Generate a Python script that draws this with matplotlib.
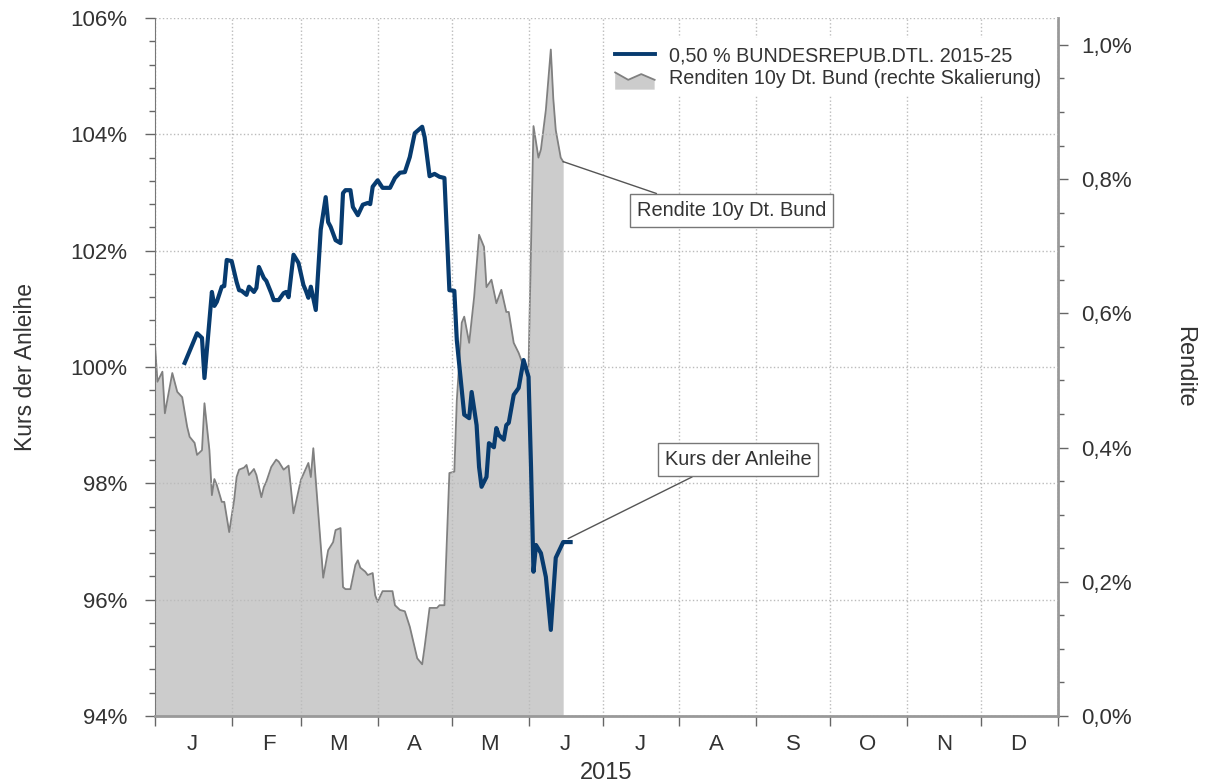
import numpy as np
import pandas as pd
import matplotlib
matplotlib.use("Agg")
import matplotlib.pyplot as plt
import matplotlib.dates as mdates
from matplotlib.ticker import FuncFormatter, MultipleLocator
from matplotlib.legend_handler import HandlerBase
from matplotlib.patches import Polygon, Patch
from matplotlib.lines import Line2D
from matplotlib import font_manager

# Rendite 10y Dt. Bund (rechte Achse, in %)
yield_dates = [
    "2015-01-01", "2015-01-02", "2015-01-04", "2015-01-05", "2015-01-08", "2015-01-10",
    "2015-01-12", "2015-01-14", "2015-01-15", "2015-01-17", "2015-01-18", "2015-01-20",
    "2015-01-21", "2015-01-23", "2015-01-24", "2015-01-25", "2015-01-26", "2015-01-28",
    "2015-01-29", "2015-01-31", "2015-02-02", "2015-02-03", "2015-02-04", "2015-02-06",
    "2015-02-07", "2015-02-08", "2015-02-10", "2015-02-11", "2015-02-13", "2015-02-14",
    "2015-02-15", "2015-02-17", "2015-02-19", "2015-02-20", "2015-02-22", "2015-02-24",
    "2015-02-26", "2015-03-01", "2015-03-04", "2015-03-05", "2015-03-06", "2015-03-10",
    "2015-03-12", "2015-03-14", "2015-03-15", "2015-03-17", "2015-03-18", "2015-03-19",
    "2015-03-21", "2015-03-23", "2015-03-24", "2015-03-25", "2015-03-27", "2015-03-28",
    "2015-03-30", "2015-03-31", "2015-04-01", "2015-04-03", "2015-04-07", "2015-04-08",
    "2015-04-10", "2015-04-12", "2015-04-14", "2015-04-17", "2015-04-19", "2015-04-20",
    "2015-04-22", "2015-04-25", "2015-04-26", "2015-04-28", "2015-04-30", "2015-05-02",
    "2015-05-03", "2015-05-05", "2015-05-06", "2015-05-08", "2015-05-10", "2015-05-12",
    "2015-05-14", "2015-05-15", "2015-05-17", "2015-05-19", "2015-05-21", "2015-05-23",
    "2015-05-24", "2015-05-26", "2015-05-28", "2015-05-29", "2015-05-30", "2015-06-01",
    "2015-06-03", "2015-06-05", "2015-06-06", "2015-06-08", "2015-06-10", "2015-06-11",
    "2015-06-12", "2015-06-14", "2015-06-15",
]
yield_values = [
    0.553, 0.498, 0.513, 0.451, 0.511, 0.483,
    0.475, 0.431, 0.416, 0.407, 0.389, 0.396,
    0.466, 0.396, 0.329, 0.353, 0.344, 0.319,
    0.319, 0.274, 0.322, 0.356, 0.367, 0.370,
    0.374, 0.359, 0.368, 0.359, 0.326, 0.341,
    0.349, 0.371, 0.382, 0.379, 0.367, 0.373,
    0.302, 0.352, 0.377, 0.356, 0.399, 0.206,
    0.247, 0.259, 0.277, 0.280, 0.192, 0.189,
    0.189, 0.225, 0.232, 0.221, 0.215, 0.210,
    0.213, 0.180, 0.170, 0.186, 0.186, 0.165,
    0.158, 0.156, 0.133, 0.086, 0.077, 0.103,
    0.161, 0.161, 0.165, 0.165, 0.362, 0.364,
    0.470, 0.586, 0.595, 0.556, 0.624, 0.717,
    0.699, 0.639, 0.650, 0.615, 0.635, 0.602,
    0.602, 0.556, 0.541, 0.531, 0.520, 0.520,
    0.879, 0.832, 0.844, 0.903, 0.993, 0.920,
    0.873, 0.832, 0.826,
]

# Kurs 0,50 % BUNDESREPUB.DTL. 2015-25 (linke Achse, in %)
price_dates = [
    "2015-01-13", "2015-01-18", "2015-01-20", "2015-01-21", "2015-01-24", "2015-01-25",
    "2015-01-26", "2015-01-28", "2015-01-29", "2015-01-30", "2015-02-01", "2015-02-03",
    "2015-02-04", "2015-02-05", "2015-02-07", "2015-02-08", "2015-02-10", "2015-02-11",
    "2015-02-12", "2015-02-14", "2015-02-15", "2015-02-17", "2015-02-18", "2015-02-20",
    "2015-02-22", "2015-02-23", "2015-02-24", "2015-02-26", "2015-02-28", "2015-03-02",
    "2015-03-03", "2015-03-04", "2015-03-05", "2015-03-07", "2015-03-09", "2015-03-11",
    "2015-03-12", "2015-03-13", "2015-03-15", "2015-03-17", "2015-03-18", "2015-03-19",
    "2015-03-21", "2015-03-22", "2015-03-24", "2015-03-25", "2015-03-26", "2015-03-28",
    "2015-03-29", "2015-03-30", "2015-04-01", "2015-04-03", "2015-04-06", "2015-04-08",
    "2015-04-10", "2015-04-12", "2015-04-14", "2015-04-16", "2015-04-19", "2015-04-20",
    "2015-04-22", "2015-04-24", "2015-04-26", "2015-04-28", "2015-04-30", "2015-05-02",
    "2015-05-03", "2015-05-06", "2015-05-08", "2015-05-09", "2015-05-11", "2015-05-12",
    "2015-05-13", "2015-05-15", "2015-05-16", "2015-05-18", "2015-05-19", "2015-05-20",
    "2015-05-22", "2015-05-23", "2015-05-24", "2015-05-26", "2015-05-28", "2015-05-30",
    "2015-06-01", "2015-06-02", "2015-06-03", "2015-06-04", "2015-06-06", "2015-06-08",
    "2015-06-10", "2015-06-12", "2015-06-15", "2015-06-18",
]
price_values = [
    100.07, 100.58, 100.50, 99.81, 101.29, 101.05,
    101.12, 101.38, 101.39, 101.84, 101.82, 101.46,
    101.32, 101.31, 101.24, 101.38, 101.29, 101.36,
    101.72, 101.53, 101.48, 101.27, 101.15, 101.15,
    101.27, 101.29, 101.20, 101.93, 101.79, 101.41,
    101.31, 101.19, 101.38, 100.98, 102.36, 102.92,
    102.49, 102.41, 102.18, 102.13, 102.99, 103.04,
    103.04, 102.75, 102.61, 102.70, 102.79, 102.82,
    102.80, 103.10, 103.21, 103.08, 103.08, 103.25,
    103.34, 103.35, 103.61, 104.02, 104.13, 103.95,
    103.28, 103.32, 103.27, 103.25, 101.32, 101.31,
    100.46, 99.18, 99.12, 99.57, 99.00, 98.28,
    97.94, 98.11, 98.69, 98.62, 98.95, 98.83,
    98.75, 99.00, 99.04, 99.52, 99.64, 100.12,
    99.83, 98.28, 96.48, 96.94, 96.80, 96.39,
    95.48, 96.72, 96.99, 96.99,
]

month_letters = ["J", "F", "M", "A", "M", "J", "J", "A", "S", "O", "N", "D"]
price_label = "0,50 % BUNDESREPUB.DTL. 2015-25"
yield_label = "Renditen 10y Dt. Bund (rechte Skalierung)"

BLUE = "#073b6f"
FILL = "#cccccc"
EDGE = "#808080"
TXT = "#333333"

names = {f.name for f in font_manager.fontManager.ttflist}
narrow = "Liberation Sans Narrow" if "Liberation Sans Narrow" in names else "Liberation Sans"
plt.rcParams["font.family"] = ["Liberation Sans", "DejaVu Sans"]

yd = pd.to_datetime(yield_dates)
pdts = pd.to_datetime(price_dates)


class AreaHandler(HandlerBase):
    # little gray area with a zigzag top, like the original legend
    def create_artists(self, legend, orig_handle, xdescent, ydescent,
                       width, height, fontsize, trans):
        fx = np.array([0.0, 0.0, 0.33, 0.66, 1.0, 1.0])
        fy = np.array([-0.25, 0.8, 0.35, 0.7, 0.35, -0.25])
        pts = np.column_stack([fx * width - xdescent, fy * height - ydescent])
        poly = Polygon(pts, closed=True, facecolor=FILL, edgecolor="none", transform=trans)
        top = Line2D(pts[1:5, 0], pts[1:5, 1], color=EDGE, lw=1.3, transform=trans)
        return [poly, top]


fig = plt.figure(figsize=(12.08, 7.83), dpi=100)
ax = fig.add_axes([0.1283, 0.0856, 0.7475, 0.8914])
ax2 = ax.twinx()
ax.set_zorder(ax2.get_zorder() + 1)
ax.patch.set_visible(False)

# yield area on the right axis
ax2.fill_between(yd, 0, yield_values, color=FILL, lw=0)
ax2.plot(yd, yield_values, color=EDGE, lw=1.3)
ax2.set_ylim(0, 1.04)

# bond price on the left axis
ax.plot(pdts, price_values, color=BLUE, lw=3.0, solid_joinstyle="round")
ax.set_ylim(94, 106)
ax.set_xlim(pd.Timestamp("2015-01-01"), pd.Timestamp("2016-01-01"))

# grid
ax.set_axisbelow(True)
ax.grid(True, which="major", color="#bbbbbb", ls=":", lw=1)

# x axis: ticks at month starts, letters in the middle of months
ax.xaxis.set_major_locator(mdates.MonthLocator())
ax.xaxis.set_major_formatter(plt.NullFormatter())
ax.xaxis.set_minor_locator(mdates.MonthLocator(bymonthday=16))
ax.xaxis.set_minor_formatter(FuncFormatter(lambda v, p: month_letters[mdates.num2date(v).month - 1]))
ax.tick_params(axis="x", which="major", direction="out", length=7, width=1, color="#666666")
ax.tick_params(axis="x", which="minor", length=0, pad=13, labelsize=16, labelcolor=TXT)
for t in ax.get_xticklabels(minor=True):
    t.set_fontfamily(narrow)
ax.set_xlabel("2015", fontsize=17, color=TXT, family=narrow)
ax.xaxis.set_label_coords(0.5, -0.066)

# left y axis
ax.yaxis.set_major_locator(MultipleLocator(2))
ax.yaxis.set_minor_locator(MultipleLocator(0.4))
ax.yaxis.set_major_formatter(FuncFormatter(lambda v, p: f"{v:.0f}%"))
ax.tick_params(axis="y", which="major", direction="out", length=7, width=1,
               color="#666666", labelsize=16, labelcolor=TXT, pad=13)
ax.tick_params(axis="y", which="minor", direction="out", length=4, width=1, color="#666666")
ax.set_ylabel("Kurs der Anleihe", fontsize=16.5, color=TXT, family=narrow)
ax.yaxis.set_label_coords(-0.131, 0.5)

# right y axis
ax2.yaxis.set_major_locator(MultipleLocator(0.2))
ax2.yaxis.set_minor_locator(MultipleLocator(0.05))
ax2.yaxis.set_major_formatter(FuncFormatter(lambda v, p: f"{v:.1f}%".replace(".", ",")))
ax2.tick_params(axis="y", which="major", direction="out", length=7, width=1,
                color="#666666", labelsize=16, labelcolor=TXT, pad=10)
ax2.tick_params(axis="y", which="minor", direction="out", length=4, width=1, color="#666666")
ax2.set_ylabel("Rendite", fontsize=17, color=TXT, family=narrow, rotation=270)
ax2.yaxis.set_label_coords(1.152, 0.5)

# spines
for a in (ax, ax2):
    a.spines["top"].set_visible(False)
ax.spines["left"].set_color("#777777")
ax.spines["bottom"].set_color("#999999")
ax.spines["bottom"].set_linewidth(2)
ax2.spines["right"].set_color("#999999")
ax2.spines["right"].set_linewidth(2)
ax.spines["right"].set_visible(False)
ax2.spines["left"].set_visible(False)
ax2.spines["bottom"].set_visible(False)

# legend
h_price = Line2D([], [], color=BLUE, lw=2.8)
h_yield = Patch(facecolor=FILL)
leg = ax.legend([h_price, h_yield], [price_label, yield_label],
                handler_map={Patch: AreaHandler()},
                loc="upper left", bbox_to_anchor=(0.49, 0.985), fontsize=14.2,
                frameon=True, fancybox=False, framealpha=1, edgecolor="none",
                handlelength=2.0, handleheight=0.9, handletextpad=0.75,
                labelspacing=0.2, borderpad=0.4)
for t in leg.get_texts():
    t.set_color(TXT)

# annotations
box = dict(boxstyle="square,pad=0.35", fc="white", ec="#777777", lw=1)
ax.annotate("Rendite 10y Dt. Bund",
            xy=(mdates.date2num(pd.Timestamp("2015-06-15")), 0.826),
            xycoords=ax2.transData, xytext=(0.6384, 0.7242), textcoords="axes fraction",
            ha="center", va="center", fontsize=14.4, color=TXT, bbox=box,
            arrowprops=dict(arrowstyle="-", color="#555555", lw=1, relpos=(0.22, 1.0),
                            shrinkA=0, shrinkB=0))
ax.annotate("Kurs der Anleihe",
            xy=(mdates.date2num(pd.Timestamp("2015-06-17")), 97.05),
            xytext=(0.6456, 0.3668), textcoords="axes fraction",
            ha="center", va="center", fontsize=14.4, color=TXT, bbox=box,
            arrowprops=dict(arrowstyle="-", color="#555555", lw=1, relpos=(0.29, 0.0),
                            shrinkA=0, shrinkB=0))

fig.savefig("out.png", dpi=100, facecolor="white")
